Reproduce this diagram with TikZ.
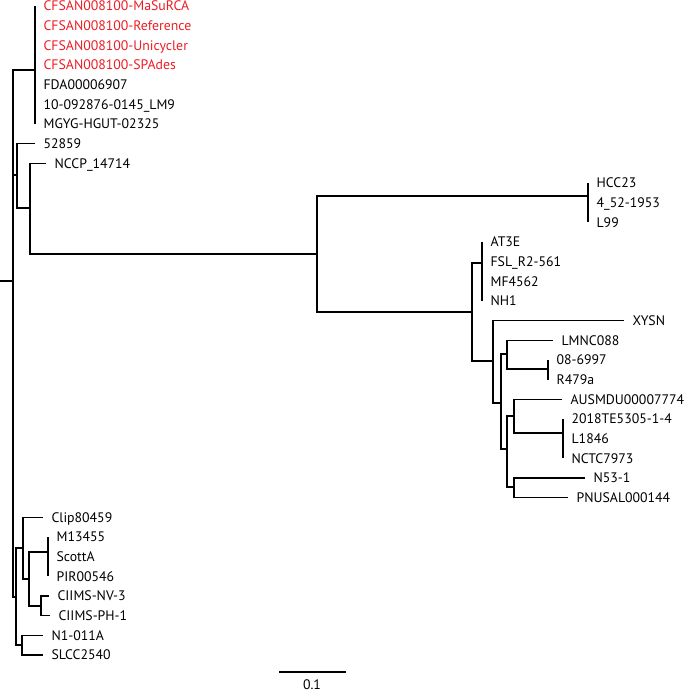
\documentclass[tikz,border=0pt]{standalone}
\usepackage{fontspec}
\setmainfont{PT Sans}
\usepackage{tikz}
\usetikzlibrary{positioning}
\definecolor{cfsanred}{RGB}{237,28,36}
\tikzset{leaf/.style={anchor=west,inner xsep=8pt,inner ysep=0pt,text height=9.5pt,text depth=0pt,font=\fontsize{13.8}{14}\selectfont},
         elbow/.style={to path={|- (\tikztotarget)}},}

\begin{document}
\begin{tikzpicture}[x=1pt, y=-1pt, line width=1.2pt]
	\useasboundingbox (0,0) rectangle (685,694);
	% internal nodes
	\coordinate (start) at (0,281);
	\coordinate (root) at (13,281);
	\coordinate (cfsan) at (35,70);
	\coordinate (na) at (17,175);
	\coordinate (nb) at (30,208);
	\coordinate (nc) at (317,254);
	\coordinate (hcc) at (588,196);
	\coordinate (nd) at (472,312);
	\coordinate (at) at (482,263);
	\coordinate (ne) at (493,361);
	\coordinate (nf) at (501,403);
	\coordinate (ng) at (507,354);
	\coordinate (r479) at (548,369);
	\coordinate (nh) at (507,449);
	\coordinate (ni) at (514,416);
	\coordinate (nctc) at (563,433);
	\coordinate (nj) at (514,487);
	\coordinate (nl) at (16,597);
	\coordinate (nm) at (23,548);
	\coordinate (no) at (29,579);
	\coordinate (scott) at (48,552);
	\coordinate (nq) at (41,606);
	\coordinate (nn) at (22,645);

	% leaves
	\node[leaf, cfsanred] (masurca) at (35,6) {CFSAN008100-MaSuRCA};
	\node[leaf, cfsanred] (reference) at (35,25.7) {CFSAN008100-Reference};
	\node[leaf, cfsanred] (unicycler) at (35,45.3) {CFSAN008100-Unicycler};
	\node[leaf, cfsanred] (spades) at (35,65) {CFSAN008100-SPAdes};
	\node[leaf] (fda) at (35,84.7) {FDA00006907};
	\node[leaf] (lm9) at (35,104.3) {10-092876-0145\_LM9};
	\node[leaf] (mgyg) at (35,124) {MGYG-HGUT-02325};
	\node[leaf] (s52859) at (35,143.7) {52859};
	\node[leaf] (nccp) at (46,163.4) {NCCP\_14714};
	\node[leaf] (hcc23) at (588,183) {HCC23};
	\node[leaf] (s452) at (588,202.7) {4\_52-1953};
	\node[leaf] (l99) at (588,222.4) {L99};
	\node[leaf] (at3e) at (482,242) {AT3E};
	\node[leaf] (fsl) at (482,261.7) {FSL\_R2-561};
	\node[leaf] (mf4562) at (482,281.4) {MF4562};
	\node[leaf] (nh1) at (482,301.1) {NH1};
	\node[leaf] (xysn) at (624,320.7) {XYSN};
	\node[leaf] (lmnc) at (553,340.4) {LMNC088};
	\node[leaf] (s086997) at (548,360) {08-6997};
	\node[leaf] (r479a) at (548,379.7) {R479a};
	\node[leaf] (ausmdu) at (562,399.4) {AUSMDU00007774};
	\node[leaf] (te5305) at (563,419) {2018TE5305-1-4};
	\node[leaf] (l1846) at (563,438.7) {L1846};
	\node[leaf] (nctc7973) at (563,458.4) {NCTC7973};
	\node[leaf] (n531) at (585,478) {N53-1};
	\node[leaf] (pnusal) at (568,497.7) {PNUSAL000144};
	\node[leaf] (clip) at (43,517.4) {Clip80459};
	\node[leaf] (m13455) at (48,537) {M13455};
	\node[leaf] (scotta) at (48,556.7) {ScottA};
	\node[leaf] (pir) at (48,576.4) {PIR00546};
	\node[leaf] (nv3) at (49,596) {CIIMS-NV-3};
	\node[leaf] (ph1) at (50,615.7) {CIIMS-PH-1};
	\node[leaf] (n1011a) at (43,635.4) {N1-011A};
	\node[leaf] (slcc) at (43,655) {SLCC2540};

	% scale bar
	\coordinate (bar1) at (279,672);
	\coordinate (bar2) at (346,672);
	\node[inner sep=0pt,font=\fontsize{13.8}{14}\selectfont] (barlabel) at (312,684.5) {0.1};

	\path[draw]
	(start) edge (root)
	(root) edge[elbow] (cfsan)
	(root) edge[elbow] (na)
	(root) edge[elbow] (nl)
	(cfsan) edge[elbow] (masurca)
	(cfsan) edge[elbow] (reference)
	(cfsan) edge[elbow] (unicycler)
	(cfsan) edge[elbow] (spades)
	(cfsan) edge[elbow] (fda)
	(cfsan) edge[elbow] (lm9)
	(cfsan) edge[elbow] (mgyg)
	(na) edge[elbow] (s52859)
	(na) edge[elbow] (nb)
	(nb) edge[elbow] (nccp)
	(nb) edge[elbow] (nc)
	(nc) edge[elbow] (hcc)
	(nc) edge[elbow] (nd)
	(hcc) edge[elbow] (hcc23)
	(hcc) edge[elbow] (s452)
	(hcc) edge[elbow] (l99)
	(nd) edge[elbow] (at)
	(nd) edge[elbow] (ne)
	(at) edge[elbow] (at3e)
	(at) edge[elbow] (fsl)
	(at) edge[elbow] (mf4562)
	(at) edge[elbow] (nh1)
	(ne) edge[elbow] (xysn)
	(ne) edge[elbow] (nf)
	(nf) edge[elbow] (ng)
	(nf) edge[elbow] (nh)
	(ng) edge[elbow] (lmnc)
	(ng) edge[elbow] (r479)
	(r479) edge[elbow] (s086997)
	(r479) edge[elbow] (r479a)
	(nh) edge[elbow] (ni)
	(nh) edge[elbow] (nj)
	(ni) edge[elbow] (ausmdu)
	(ni) edge[elbow] (nctc)
	(nctc) edge[elbow] (te5305)
	(nctc) edge[elbow] (l1846)
	(nctc) edge[elbow] (nctc7973)
	(nj) edge[elbow] (n531)
	(nj) edge[elbow] (pnusal)
	(nl) edge[elbow] (nm)
	(nl) edge[elbow] (nn)
	(nm) edge[elbow] (clip)
	(nm) edge[elbow] (no)
	(no) edge[elbow] (scott)
	(no) edge[elbow] (nq)
	(scott) edge[elbow] (m13455)
	(scott) edge[elbow] (scotta)
	(scott) edge[elbow] (pir)
	(nq) edge[elbow] (nv3)
	(nq) edge[elbow] (ph1)
	(nn) edge[elbow] (n1011a)
	(nn) edge[elbow] (slcc)
	(bar1) edge (bar2);
\end{tikzpicture}
\end{document}
